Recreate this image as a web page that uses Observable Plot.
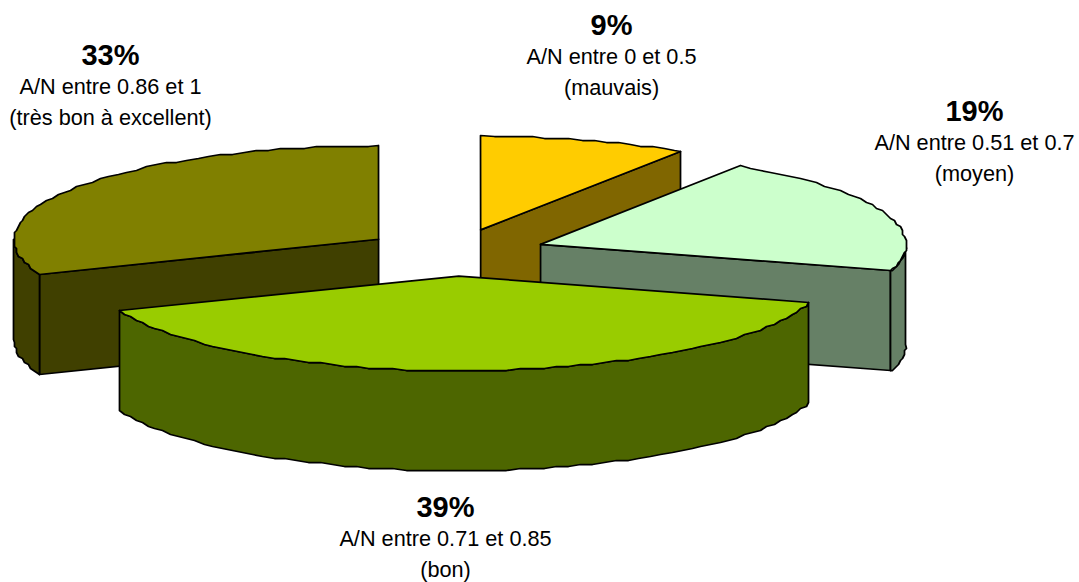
<!DOCTYPE html>
<html lang="fr">
<head>
<meta charset="utf-8">
<title>Répartition des A/N</title>
<script src="https://cdn.jsdelivr.net/npm/d3@7"></script>
<script src="https://cdn.jsdelivr.net/npm/@observablehq/plot@0.6"></script>
<style>
  html, body { margin: 0; padding: 0; background: #fff; }
  svg { display: block; }
</style>
</head>
<body>
<div id="chart"></div>
<script>
// Share of each A/N class, clockwise from twelve o'clock.
const percents = [9, 19, 39, 33];
const ranges = ["A/N entre 0 et 0.5", "A/N entre 0.51 et 0.7", "A/N entre 0.71 et 0.85", "A/N entre 0.86 et 1"];
const qualities = ["(mauvais)", "(moyen)", "(bon)", "(très bon à excellent)"];
const topColors = ["#ffcc00", "#ccffcc", "#99cc00", "#808000"];
const sideColors = ["#806600", "#668066", "#4d6600", "#404000"];

// Label centres, one per class.
const labelX = [611, 974, 445, 110];
const labelY = [25, 111, 507, 55];

// Pie geometry in chart units.
const W = 1079, H = 582;
const cx = 454, cy = 252, rx = 365, ry = 94, depth = 100, explode = 91.7;
const skew = 9.5;    // foreshortening of the angles across the tilted disc
const arcStep = 2;   // degrees between arc vertices
const grid = 2;      // arcs are drawn on a coarse grid, which gives them their stepped edge
const rad = Math.PI / 180;

const warp = (deg) => deg + skew * Math.sin((deg / 2) * rad) ** 2;
const snap = (v) => Math.round(v / grid) * grid;
const ring = (c, t, dz = 0) => ({
  x: Math.round(c.x + rx * Math.sin(t * rad)),
  y: Math.round(c.y - ry * Math.cos(t * rad) + dz)
});
const arc = (c, from, to, dz = 0) => {
  const pts = [ring(c, from, dz)];
  for (let t = from + arcStep; t < to; t += arcStep) {
    const p = ring(c, t, dz);
    pts.push({x: snap(p.x), y: snap(p.y - dz) + dz});
  }
  pts.push(ring(c, to, dz));
  return pts;
};
const closed = (pts) => [...pts, pts[0]];

const polygon = (points, fill) => Plot.line(closed(points), {
  x: "x", y: "y", fill, stroke: "#000", strokeWidth: 1.75, curve: "linear", strokeLinejoin: "round"
});

// Turn each share into its faces, listed back to front.
const faces = (start, end, top, side) => {
  const a = warp(start), b = warp(end);
  const mid = (a + b) / 2;
  const c = {
    x: cx + explode * Math.sin(mid * rad),
    y: cy - (ry / rx) * explode * Math.cos(mid * rad)
  };
  const out = [];
  const radial = (t) => {
    const p = ring(c, t);
    return [{x: c.x, y: c.y}, p, {x: p.x, y: p.y + depth}, {x: c.x, y: c.y + depth}];
  };
  if (Math.sin(a * rad) < -1e-6) out.push(polygon(radial(a), side));
  if (Math.sin(b * rad) > 1e-6) out.push(polygon(radial(b), side));
  const from = Math.max(a, 90), to = Math.min(b, 270);
  if (from < to) {
    out.push(polygon([...arc(c, from, to), ...arc(c, from, to, depth).reverse()], side));
  }
  out.push(polygon([{x: c.x, y: c.y}, ...arc(c, a, b)], top));
  return out;
};

// Cumulative angles for each slice.
let running = 0;
const slices = percents.map((p, i) => {
  const start = running * 3.6;
  running += p;
  return {i, start, end: running * 3.6};
});

// Back slices are painted first so the front slice sits over them.
const paintOrder = [3, 0, 1, 2];
const sliceMarks = paintOrder.flatMap((i) =>
  faces(slices[i].start, slices[i].end, topColors[i], sideColors[i])
);

const labels = percents.map((p, i) => ({
  head: `${p}%`, range: ranges[i], quality: qualities[i], x: labelX[i], y: labelY[i]
}));

const chart = Plot.plot({
  width: W,
  height: H,
  margin: 0,
  style: {background: "#fff", fontFamily: "'Liberation Sans', Arial, sans-serif"},
  x: {domain: [0, W], range: [0, W], axis: null},
  y: {domain: [0, H], range: [0, H], axis: null},
  marks: [
    ...sliceMarks,
    Plot.text(labels, {x: "x", y: "y", text: "head", fontSize: 29, fontWeight: "bold", fill: "#000"}),
    Plot.text(labels, {x: "x", y: "y", dy: 32, text: "range", fontSize: 21.7, fill: "#000"}),
    Plot.text(labels, {x: "x", y: "y", dy: 63, text: "quality", fontSize: 21.7, fill: "#000"})
  ]
});
document.getElementById("chart").append(chart);
</script>
</body>
</html>
